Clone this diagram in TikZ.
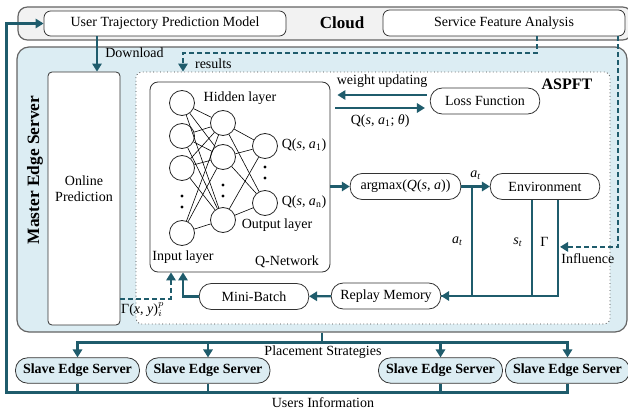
\documentclass[tikz,border=0pt]{standalone}
\usepackage{fontspec}
\setmainfont{Liberation Serif}
\usetikzlibrary{shapes, arrows.meta, calc, positioning}
\definecolor{flowTeal}{RGB}{31,92,108}
\definecolor{edgeBlue}{RGB}{220,237,243}
\definecolor{cloudGray}{RGB}{242,242,242}
\definecolor{frameGray}{RGB}{100,100,100}
\tikzstyle{outerBox} = [rectangle, rounded corners=7pt, draw=frameGray, line width=0.9pt, inner sep=0pt]
\tikzstyle{block} = [rectangle, rounded corners=5pt, draw=black!80, fill=white, line width=0.6pt, inner sep=0pt, text centered]
\tikzstyle{process} = [rectangle, rounded corners=9pt, draw=black!80, fill=white, line width=0.6pt, minimum width=82pt, minimum height=19.5pt, inner sep=0pt]
\tikzstyle{slave} = [process, fill=edgeBlue, minimum width=93pt, minimum height=19pt, font=\bfseries\fontsize{10.5}{12}\selectfont]
\tikzstyle{neuron} = [circle, draw=black!85, line width=0.6pt, minimum size=18.75pt, inner sep=0pt]
\tikzstyle{link} = [draw=flowTeal, line width=1.8pt]
\tikzstyle{flow} = [link, ->, >={Triangle[length=6pt,width=7pt]}]
\tikzstyle{dflow} = [flow, line width=1.5pt, dash pattern=on 3.5pt off 2.5pt]
\tikzstyle{synapse} = [draw=black, line width=0.45pt]

\begin{document}
\begin{tikzpicture}[x=0.75pt, y=-0.75pt, font=\fontsize{10.5}{12}\selectfont]
\useasboundingbox (0,0) rectangle (628,413);

\node (cloud) [outerBox, fill=cloudGray, minimum width=460.5pt, minimum height=24.75pt] at (325,23.5) {};
\node (trajModel) [block, minimum width=181.5pt, minimum height=18.75pt] at (165,23.5) {User Trajectory Prediction Model};
\node (cloudTitle) [font=\bfseries\fontsize{12.75}{14}\selectfont] at (342,23) {Cloud};
\node (featAnalysis) [block, minimum width=181.5pt, minimum height=19.5pt] at (504,23) {Service Feature Analysis};

\node (master) [outerBox, fill=edgeBlue, rounded corners=9pt, minimum width=457.5pt, minimum height=213.75pt] at (322,189.5) {};
\node (masterTitle) [rotate=90, font=\bfseries\fontsize{13}{15}\selectfont] at (35,170) {Master Edge Server};
\node (online) [block, rounded corners=3pt, minimum width=54pt, minimum height=189.75pt] at (84,198.5) {};
\node (onlineText) [align=center] at (84,188.5) {Online\\Prediction};

\node (aspft) [rectangle, rounded corners=4pt, draw=black!75, dotted, fill=white, line width=0.6pt, minimum width=355.5pt, minimum height=189pt] at (373,198) {};
\node (aspftTitle) [font=\bfseries\fontsize{12}{14}\selectfont] at (567,84) {ASPFT};

\node (qnet) [block, rounded corners=6pt, minimum width=135pt, minimum height=142.5pt] at (240,177) {};
\foreach \y [count=\i] in {103,136,168,233}
  \node (in\i) [neuron] at (182,\y) {};
\foreach \y [count=\i] in {123,157,220}
  \node (hid\i) [neuron] at (223,\y) {};
\foreach \y [count=\i] in {146,203}
  \node (out\i) [neuron] at (265,\y) {};
\foreach \i in {1,...,4}
  \foreach \j in {1,2,3}
    \draw [synapse] (in\i) -- (hid\j);
\foreach \j in {1,2,3}
  \foreach \k in {1,2}
    \draw [synapse] (hid\j) -- (out\k);
\foreach \x/\y in {182/196, 182/207, 223/185, 223/196, 265/167, 265/178}
  \fill (\x,\y) circle (1.3pt);
\node (hiddenLabel) at (240,98) {Hidden layer};
\node (qFirst) at (304,145) {Q(\textit{s}, \textit{a}\textsubscript{1})};
\node (qLast) at (304,202) {Q(\textit{s}, \textit{a}\textsubscript{n})};
\node (outputLabel) at (277,225) {Output layer};
\node (inputLabel) at (183,257) {Input layer};
\node (qnetTitle) at (287,262) {Q-Network};

\node (loss) [process] at (485,101) {Loss Function};
\node (argmax) [process, minimum width=83pt] at (405.5,186.5) {argmax(\textit{Q}(\textit{s}, \textit{a}))};
\node (env) [process] at (545,186.5) {Environment};
\node (replay) [process] at (386,296) {Replay Memory};
\node (minibatch) [process] at (254,296.5) {Mini-Batch};

\node (slave1) [slave] at (77.5,370.5) {Slave Edge Server};
\node (slave2) [slave] at (208,370.5) {Slave Edge Server};
\node (slave3) [slave] at (440.5,370.5) {Slave Edge Server};
\node (slave4) [slave] at (567.5,370.5) {Slave Edge Server};
\node (placeLabel) at (323,352) {Placement Strategies};
\node (usersLabel) at (323,403) {Users Information};

\draw [flow] ($(trajModel.south)+(-68,0)$) -- node[right=2pt, pos=0.45] {Download} ($(online.north)+(13,0)$);
\draw [dflow] ($(featAnalysis.south)+(33,0)$) -- ++(0,17) -| node[pos=0.78, right=5pt] {results} ($(aspft.north)+(-190,0)$);
\draw [dflow] ($(featAnalysis.south)+(114,0)$) |- node[pos=0.76, below=1pt] {Influence} ($(env.south)+(15,47)$);

\draw [flow] ($(loss.west)+(-3,-6)$) -- node[above=1pt] {weight updating} ($(qnet.east |- loss.west)+(7,-6)$);
\draw [flow] ($(qnet.east |- loss.west)+(5,7)$) -- node[below=1pt] {Q(\textit{s}, \textit{a}\textsubscript{1}; \textit{θ})} ($(loss.west)+(-5,7)$);
\draw [flow] (qnet.east |- argmax.west) -- (argmax.west);
\draw [flow] (argmax) -- node[above=1pt] {\textit{a}\textsubscript{\textit{t}}} (env);
\draw [link] ($(argmax.east)+(11,0)$) |- node[pos=0.25, left=3pt] {\textit{a}\textsubscript{\textit{t}}} (replay.east);
\draw [link] ($(env.south)+(-13,0)$) |- node[pos=0.22, left=3pt] {\textit{s}\textsubscript{\textit{t}}} (replay.east);
\draw [flow] ($(env.south)+(13,0)$) |- node[pos=0.22, left=3pt] {Γ} (replay.east);
\draw [flow] (replay) -- (minibatch);
\draw [flow] (minibatch.west) -| ($(qnet.south)+(-57,0)$);
\draw [dflow] ($(online.east |- minibatch)+(0,2)$) -| node[pos=0.22, below=-1pt] {Γ(\textit{x}, \textit{y})$^{p}_{i}$} ($(qnet.south)+(-69,0)$);

\draw [link] (master.south) -- ++(0,10);
\foreach \s in {slave1, slave2, slave3, slave4}
  \draw [flow] ($(master.south)+(0,10)$) -| (\s.north);
\foreach \s in {slave1, slave2, slave3}
  \draw [link] (\s.south) -- ++(0,9);
\draw [flow] (slave4.south) -- ++(0,9) -| ($(trajModel.west)+(-37,0)$) -- (trajModel.west);

\end{tikzpicture}
\end{document}
